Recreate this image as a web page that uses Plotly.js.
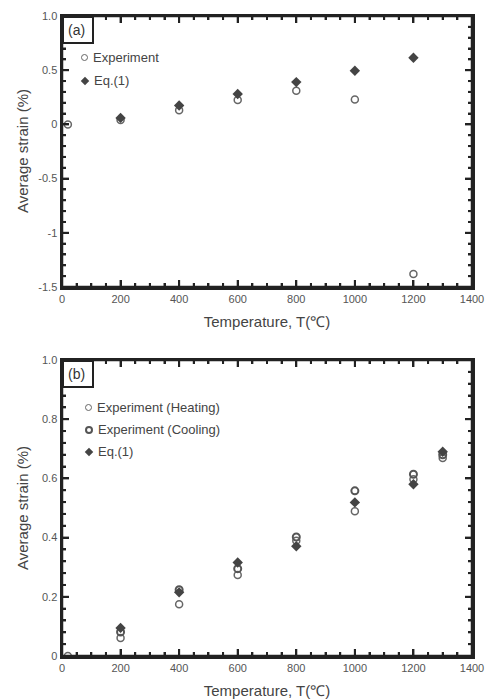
<!DOCTYPE html>
<html><head><meta charset="utf-8">
<script src="https://cdn.plot.ly/plotly-3.0.1.min.js"></script>
<style>
body{margin:0;background:#fff;position:relative;width:488px;height:699px;overflow:hidden}
#a{position:absolute;left:0;top:0;width:488px;height:330px}
#b{position:absolute;left:0;top:330px;width:488px;height:369px}
.ov{position:absolute;z-index:10;font-family:'Liberation Sans',Arial,sans-serif;color:#444;white-space:nowrap}
.box{border:2px solid #222;background:#fff;font-size:14px;color:#333;padding:3px 4px;line-height:18px;box-sizing:border-box}
.yt{font-size:15px;transform:translate(-50%,-50%) rotate(-90deg)}
.lg{font-size:13px;line-height:16px;transform:translateY(-50%)}
.oc{display:inline-block;width:5px;height:5px;border:1.5px solid #666;border-radius:50%;margin-right:5px;vertical-align:middle;position:relative;top:-1px}
.oc2{border:2px solid #555;width:4px;height:4px}
.dm{display:inline-block;width:6px;height:6px;background:#444;transform:rotate(45deg);margin-right:6px;margin-left:1px;vertical-align:middle;position:relative;top:-1px}
</style>
</head><body><div id="a"></div><div id="b"></div>
<div class="ov box" style="left:62px;top:16px;width:32px;height:28px">(a)</div>
<div class="ov box" style="left:62px;top:360px;width:32px;height:28px">(b)</div>
<div class="ov yt" style="left:22px;top:151px">Average strain (%)</div>
<div class="ov yt" style="left:22px;top:508px">Average strain (%)</div>
<div class="ov lg" style="left:81px;top:58px"><span class="oc"></span>Experiment</div>
<div class="ov lg" style="left:81px;top:81px"><span class="dm"></span>Eq.(1)</div>
<div class="ov lg" style="left:85px;top:408px"><span class="oc"></span>Experiment (Heating)</div>
<div class="ov lg" style="left:85px;top:430px"><span class="oc oc2"></span>Experiment (Cooling)</div>
<div class="ov lg" style="left:85px;top:452px"><span class="dm"></span>Eq.(1)</div>
<script>
// Panel (a)
const aExpT = [20, 200, 400, 600, 800, 1000, 1200];
const aExpS = [0, 0.04, 0.13, 0.225, 0.31, 0.23, -1.38];
const aEqT = [200, 400, 600, 800, 1000, 1200];
const aEqS = [0.06, 0.175, 0.28, 0.39, 0.495, 0.615];
// Panel (b)
const bHeatT = [20, 200, 400, 600, 800, 1000, 1200, 1300];
const bHeatS = [0, 0.061, 0.175, 0.274, 0.389, 0.489, 0.597, 0.669];
const bCoolT = [200, 400, 600, 800, 1000, 1200, 1300];
const bCoolS = [0.081, 0.224, 0.295, 0.402, 0.558, 0.614, 0.68];
const bEqT = [200, 400, 600, 800, 1000, 1200, 1300];
const bEqS = [0.095, 0.215, 0.316, 0.371, 0.519, 0.58, 0.69];
const xTicks = [0, 200, 400, 600, 800, 1000, 1200, 1400];
const aYTicks = [1.0, 0.5, 0, -0.5, -1, -1.5];
const aYLabels = ['1.0', '0.5', '0', '-0.5', '-1', '-1.5'];
const bYTicks = [0, 0.2, 0.4, 0.6, 0.8, 1.0];
const bYLabels = ['0', '0.2', '0.4', '0.6', '0.8', '1.0'];

const openM = {symbol:'circle-open', size:7, color:'#666', line:{width:1.5, color:'#666'}};
const coolM = {symbol:'circle-open', size:7, color:'#555', line:{width:2, color:'#555'}};
const eqM = {symbol:'diamond', size:8, color:'#444'};

const FONT = 'Liberation Sans, Arial, sans-serif';
const tickFont = {family:FONT, size:11, color:'#555'};
const titleFont = {family:FONT, size:15, color:'#444'};
const INK = '#222';

function xa(){
  return {range:[0,1400], tickvals:xTicks, ticks:'inside', ticklen:7, tickwidth:2, tickcolor:INK,
    minor:{dtick:50, tick0:0, ticks:'inside', ticklen:4, tickwidth:2, tickcolor:INK},
    showline:true, linewidth:2.5, linecolor:INK, mirror:'ticks', showgrid:false, zeroline:false,
    tickfont:tickFont, title:{text:'Temperature, T(\u2103)', font:titleFont}};
}
function ya(range, tv, tt, minorD){
  return {range:range, tickvals:tv, ticktext:tt, ticks:'inside', ticklen:7, tickwidth:2, tickcolor:INK,
    minor:{dtick:minorD, tick0:0, ticks:'inside', ticklen:4, tickwidth:2, tickcolor:INK},
    showline:true, linewidth:2.5, linecolor:INK, mirror:'ticks', showgrid:false, zeroline:false,
    tickfont:tickFont};
}
// frame + tick marks as axis-referenced shapes (fallback so the frame always shows)
function frame(yRange, yStep){
  const s = [{type:'rect', xref:'x domain', yref:'y domain', x0:0, x1:1, y0:0, y1:1, line:{width:2.5, color:INK}, layer:'above'}];
  const L = {width:2, color:INK};
  for (let i = 0; i <= 28; i++) {
    const v = i * 50, len = (i % 4 === 0) ? 7 : 4;
    if (v <= 0 || v >= 1400) continue;
    s.push({type:'line', xref:'x', yref:'y domain', x0:v, x1:v, ysizemode:'pixel', yanchor:0, y0:0, y1:len, line:L, layer:'above'});
    s.push({type:'line', xref:'x', yref:'y domain', x0:v, x1:v, ysizemode:'pixel', yanchor:1, y0:0, y1:-len, line:L, layer:'above'});
  }
  const n = Math.round((yRange[1] - yRange[0]) / yStep);
  for (let i = 1; i < n; i++) {
    const v = yRange[0] + i * yStep, len = (i % 5 === 0) ? 7 : 4;
    s.push({type:'line', yref:'y', xref:'x domain', y0:v, y1:v, xsizemode:'pixel', xanchor:0, x0:0, x1:len, line:L, layer:'above'});
    s.push({type:'line', yref:'y', xref:'x domain', y0:v, y1:v, xsizemode:'pixel', xanchor:1, x0:0, x1:-len, line:L, layer:'above'});
  }
  return s;
}

Plotly.newPlot('a', [
  {x:aExpT, y:aExpS, mode:'markers', name:'Experiment', marker:openM},
  {x:aEqT, y:aEqS, mode:'markers', name:'Eq.(1)', marker:eqM}
], {
  width:488, height:330, margin:{l:62, r:16, t:16, b:43},
  paper_bgcolor:'#fff', plot_bgcolor:'#fff', showlegend:false,
  xaxis:xa(), yaxis:ya([-1.5, 1.0], aYTicks, aYLabels, 0.1),
  shapes:frame([-1.5, 1.0], 0.1)
}, {staticPlot:true});

Plotly.newPlot('b', [
  {x:bHeatT, y:bHeatS, mode:'markers', name:'Experiment (Heating)', marker:openM},
  {x:bCoolT, y:bCoolS, mode:'markers', name:'Experiment (Cooling)', marker:coolM},
  {x:bEqT, y:bEqS, mode:'markers', name:'Eq.(1)', marker:eqM}
], {
  width:488, height:369, margin:{l:62, r:16, t:30, b:43},
  paper_bgcolor:'#fff', plot_bgcolor:'#fff', showlegend:false,
  xaxis:xa(), yaxis:ya([0, 1.0], bYTicks, bYLabels, 0.04),
  shapes:frame([0, 1.0], 0.04)
}, {staticPlot:true});
</script></body></html>
